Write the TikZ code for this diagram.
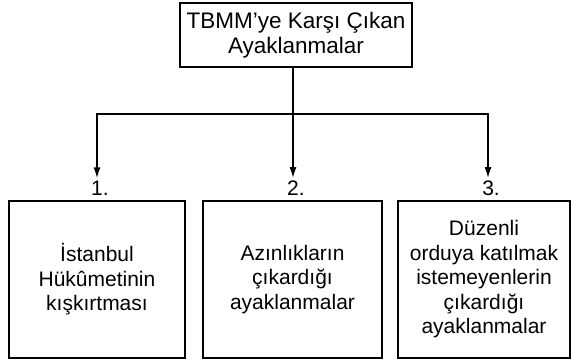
\documentclass[tikz,border=0pt]{standalone}
\usepackage{fontspec}
\setmainfont{Liberation Sans}
\usepackage{tikz}
\usetikzlibrary{arrows.meta}

\tikzset{
  kutu/.style={draw, line width=1.6pt, align=center, inner sep=0pt, font=\fontsize{21}{24.5}\selectfont},
  ok/.style={line width=1.6pt, -{Latex[length=11pt,width=7pt]}},
}

\begin{document}
\begin{tikzpicture}[x=1pt,y=-1pt]
    \useasboundingbox (0,0) rectangle (572,360);
    % Title box at the top
    \node[kutu, minimum width=232pt, minimum height=64pt, font=\fontsize{22.5}{25}\selectfont] (ana) at (296,35) {TBMM’ye Karşı Çıkan\\Ayaklanmalar};
    \coordinate (orta) at (293,114);
    \draw[line width=1.6pt] (ana.south -| orta) -- (orta);
    \foreach \i/\x/\ox/\w/\metin in {1/97/97/176/{İstanbul\\Hükûmetinin\\kışkırtması},
        2/292.5/293/179/{Azınlıkların\\çıkardığı\\ayaklanmalar},
        3/484/488/172/{Düzenli\\orduya katılmak\\istemeyenlerin\\çıkardığı\\ayaklanmalar}} {
        % Box at the bottom
        \node[kutu, minimum width=\w pt, minimum height=157pt] (kutu\i) at (\x,279.5) {\metin};
        % Number above the box
        \node[anchor=base, inner sep=2pt, font=\fontsize{21}{24.5}\selectfont] (no\i) at (\ox+3,195) {\i.};
        % Arrow down to the number
        \coordinate (dal\i) at (\ox,114);
        \draw[ok] (dal\i) -- (dal\i |- no\i.north);
    }
    \draw[line width=1.6pt, line cap=rect] (dal1) -- (dal3);
\end{tikzpicture}
\end{document}
